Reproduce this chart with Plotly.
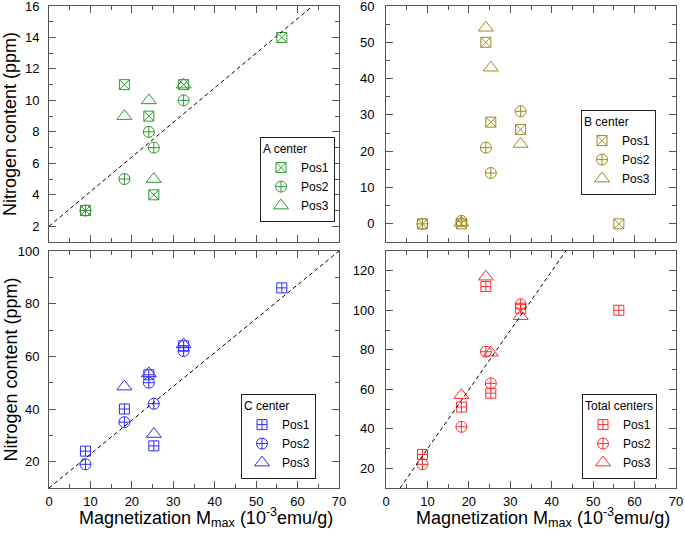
import plotly.graph_objects as go

# Magnetization Mmax (10^-3 emu/g)
mag = [8.8, 18.2, 24.1, 25.3, 32.5, 56.2]
mag_p3 = [18.2, 24.1, 25.3, 32.5]

# A center (ppm)
a_pos1 = [3, 11, 9, 4, 11, 14]
a_pos2 = [3, 5, 8, 7, 10]
a_pos3 = [9, 10, 5, 11]
# B center (ppm)
b_pos1 = [0, 0, 50, 28, 26, 0]
b_pos2 = [0, 0.8, 21, 14, 31]
b_pos3 = [0.3, 54, 43, 22]
# C center (ppm)
c_pos1 = [24, 40, 53, 26, 64, 86]
c_pos2 = [19, 35, 50, 42, 62]
c_pos3 = [48.5, 53.5, 30.5, 64.5]
# Total centers (ppm)
t_pos1 = [27, 51, 112, 58, 101, 100]
t_pos2 = [22, 41, 79, 63, 103]
t_pos3 = [57, 117, 78.5, 97]

# dashed guide lines: (x_start, x_end, intercept, slope)
fit_a = [0, 63.6, 2.0, 0.22]
fit_c = [0, 70, 10.0, 90 / 70]
fit_t = [3.4, 43.4, -0.2, 3.0]

GREEN = "#2f9a2f"
OLIVE = "#9a8c1c"
BLUE = "#2b2bff"
RED = "#ff2b2b"
FRAME = "#555555"
FONT = "Liberation Sans, Arial, sans-serif"

fig = go.Figure()

panels = [
    ("x", "y", "legend", "A center", GREEN, "square-x-open", a_pos1, a_pos2, a_pos3),
    ("x2", "y2", "legend2", "B center", OLIVE, "square-x-open", b_pos1, b_pos2, b_pos3),
    ("x3", "y3", "legend3", "C center", BLUE, "square-cross-open", c_pos1, c_pos2, c_pos3),
    ("x4", "y4", "legend4", "Total centers", RED, "square-cross-open", t_pos1, t_pos2, t_pos3),
]

for xa, ya, lg, title, col, sym1, p1, p2, p3 in panels:
    fig.add_trace(go.Scatter(x=mag[:len(p1)], y=p1, mode="markers", name="Pos1",
                             xaxis=xa, yaxis=ya, legend=lg,
                             marker=dict(symbol=sym1, size=10, color=col, line=dict(width=1, color=col))))
    fig.add_trace(go.Scatter(x=mag[:len(p2)], y=p2, mode="markers", name="Pos2",
                             xaxis=xa, yaxis=ya, legend=lg,
                             marker=dict(symbol="circle-cross-open", size=11, color=col, line=dict(width=1, color=col))))
    fig.add_trace(go.Scatter(x=mag_p3, y=p3, mode="markers", name="Pos3",
                             xaxis=xa, yaxis=ya, legend=lg,
                             marker=dict(symbol="triangle-up-open", size=13, color=col, line=dict(width=1, color=col))))

for (x0, x1, b, m), xa, ya in [(fit_a, "x", "y"), (fit_c, "x3", "y3"), (fit_t, "x4", "y4")]:
    fig.add_trace(go.Scatter(x=[x0, x1], y=[b + m * x0, b + m * x1], mode="lines",
                             xaxis=xa, yaxis=ya, showlegend=False, hoverinfo="skip",
                             line=dict(color="black", width=1, dash="4px,3px")))

W, H = 685, 537
xdomL = [49 / W, 339 / W]
xdomR = [386 / W, 676 / W]
ydomT = [1 - 242 / H, 1 - 6 / H]
ydomB = [1 - 488 / H, 1 - 251 / H]

def axis_common(**kw):
    d = dict(showline=True, linecolor=FRAME, linewidth=1, mirror="allticks",
             ticks="inside", ticklen=7, tickcolor=FRAME, tickwidth=1,
             showgrid=False, zeroline=False, automargin=False,
             ticklabeloverflow="allow",
             tickfont=dict(family=FONT, size=13, color="black"),
             minor=dict(ticks="inside", ticklen=4, tickcolor=FRAME, showgrid=False))
    d.update(kw)
    return d

xkw = dict(range=[0, 70], dtick=10, tick0=0, ticklabelstandoff=1)
fig.update_layout(
    width=W, height=H,
    margin=dict(l=0, r=0, t=0, b=0),
    paper_bgcolor="white", plot_bgcolor="white",
    font=dict(family=FONT, color="black"),
    xaxis=axis_common(domain=xdomL, anchor="y", showticklabels=False, **xkw, minor_dtick=5),
    yaxis=axis_common(domain=ydomT, anchor="x", range=[1, 16], dtick=2, tick0=0, minor_dtick=1,
                      ticklabelstandoff=6),
    xaxis2=axis_common(domain=xdomR, anchor="y2", showticklabels=False, **xkw, minor_dtick=5),
    yaxis2=axis_common(domain=ydomT, anchor="x2", range=[-5, 60], dtick=10, tick0=0, minor_dtick=5,
                       ticklabelstandoff=8),
    xaxis3=axis_common(domain=xdomL, anchor="y3", **xkw, minor_dtick=5),
    yaxis3=axis_common(domain=ydomB, anchor="x3", range=[10, 100], dtick=20, tick0=0, minor_dtick=10,
                       ticklabelstandoff=6),
    xaxis4=axis_common(domain=xdomR, anchor="y4", **xkw, minor_dtick=5),
    yaxis4=axis_common(domain=ydomB, anchor="x4", range=[10, 130], dtick=20, tick0=0, minor_dtick=10,
                       ticklabelstandoff=8),
)

def legend_cfg(title, xr, yc):
    return dict(title=dict(text=title, font=dict(family=FONT, size=12, color="black"), side="top"),
                x=xr / W, y=1 - yc / H, xanchor="right", yanchor="middle", xref="paper", yref="paper",
                bgcolor="white", bordercolor="#222222", borderwidth=1,
                font=dict(family=FONT, size=12, color="black"),
                itemsizing="trace", itemwidth=30, tracegroupgap=0)

fig.update_layout(
    legend=legend_cfg("A center", 335, 179),
    legend2=legend_cfg("B center", 656, 152),
    legend3=legend_cfg("C center", 316, 436),
    legend4=legend_cfg("Total centers", 657, 436),
)

ytitle = "Nitrogen content (ppm)"
xtitle = "Magnetization M<sub>max</sub> (10<sup>-3</sup>emu/g)"
ann = []
for yc in [(6 + 242) / 2, (251 + 488) / 2]:
    ann.append(dict(text=ytitle, x=10 / W, y=1 - yc / H, xref="paper", yref="paper",
                    textangle=-90, showarrow=False, xanchor="center", yanchor="middle",
                    font=dict(family=FONT, size=18, color="black")))
for xc in [(49 + 339) / 2, (386 + 676) / 2]:
    ann.append(dict(text=xtitle, x=xc / W + 12 / W, y=1 - 517 / H, xref="paper", yref="paper",
                    showarrow=False, xanchor="center", yanchor="middle",
                    font=dict(family=FONT, size=18, color="black")))
fig.update_layout(annotations=ann)

fig.write_html("out.html", config={"displayModeBar": False},
               post_script="document.body.style.margin='0';document.body.style.overflow='hidden';")
